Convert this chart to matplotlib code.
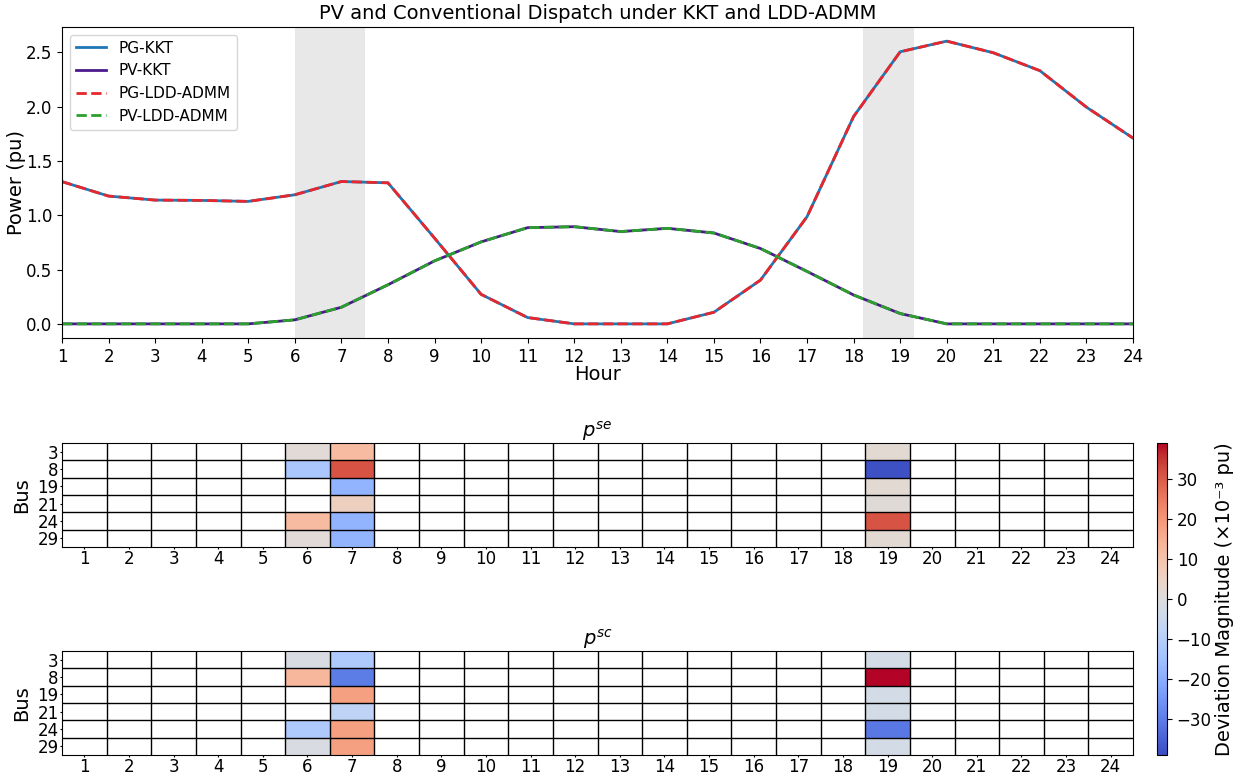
import numpy as np
import matplotlib
matplotlib.use("Agg")
import matplotlib.pyplot as plt

hours = list(range(1, 25))
pg_kkt = [1.31, 1.177, 1.14, 1.137, 1.128, 1.189, 1.311, 1.299, 0.79, 0.272, 0.058, 0.0,
          0.0, 0.0, 0.107, 0.403, 0.987, 1.91, 2.506, 2.604, 2.497, 2.332, 1.996, 1.711]
pv_kkt = [0.0, 0.0, 0.0, 0.0, 0.0, 0.037, 0.153, 0.36, 0.58, 0.755, 0.886, 0.895,
          0.85, 0.88, 0.837, 0.694, 0.483, 0.266, 0.095, 0.0, 0.0, 0.0, 0.0, 0.0]
pg_admm = list(pg_kkt)
pv_admm = list(pv_kkt)

shade_spans = [(6.0, 7.5), (18.2, 19.3)]

buses = ["3", "8", "19", "21", "24", "29"]
# deviations (x1e-3 pu) at hours 6, 7, 19; other hours are exactly zero (blank)
dev_hours = [6, 7, 19]
pse_vals = [
    [1.5, 12.0, 2.0],
    [-13.0, 31.0, -38.0],
    [np.nan, -18.0, 2.0],
    [np.nan, 6.0, 1.0],
    [12.0, -18.0, 31.0],
    [1.5, -18.0, 2.0],
]
psc_vals = [
    [-1.5, -12.0, -2.5],
    [13.0, -30.0, 39.0],
    [np.nan, 18.0, -2.5],
    [np.nan, -8.0, -2.5],
    [-12.0, 18.0, -31.0],
    [-1.5, 18.0, -2.5],
]


def build_matrix(vals):
    m = np.full((len(buses), len(hours)), np.nan)
    for i, row in enumerate(vals):
        for j, h in enumerate(dev_hours):
            m[i, h - 1] = row[j]
    return m


pse = build_matrix(pse_vals)
psc = build_matrix(psc_vals)
vmax = np.nanmax(np.abs(np.concatenate([pse.ravel(), psc.ravel()])))

W, H = 1234, 776
fig = plt.figure(figsize=(W / 100, H / 100), dpi=100)


def fx(px):
    return px / W


def fy(top, bottom):
    return (H - bottom) / H, (bottom - top) / H


left, right = 62, 1133
b, h = fy(27, 338)
ax = fig.add_axes([fx(left), b, fx(right - left), h])
for s0, s1 in shade_spans:
    ax.axvspan(s0, s1, color="#e8e8e8", zorder=0, lw=0)
ax.plot(hours, pg_kkt, color="#1f77b4", lw=2, label="PG-KKT")
ax.plot(hours, pv_kkt, color="#4b1a8c", lw=2, label="PV-KKT")
ax.plot(hours, pg_admm, color="#e8262b", lw=2, ls="--", label="PG-LDD-ADMM")
ax.plot(hours, pv_admm, color="#2ca02c", lw=2, ls="--", label="PV-LDD-ADMM")
ax.set_xlim(1, 24)
ax.set_xticks(hours)
ax.set_yticks([0.0, 0.5, 1.0, 1.5, 2.0, 2.5])
ax.tick_params(labelsize=12)
ax.set_xlabel("Hour", fontsize=14, labelpad=-0.5)
ax.set_ylabel("Power (pu)", fontsize=14)
ax.yaxis.set_label_coords((26 - 62) / 1071, 0.5)
ax.set_title("PV and Conventional Dispatch under KKT and LDD-ADMM", fontsize=14, pad=5.5)
ax.legend(loc="upper left", fontsize=11)

cmap = plt.get_cmap("coolwarm").copy()
cmap.set_bad("white")


def heat(top, bottom, data, title):
    b, h = fy(top, bottom)
    a = fig.add_axes([fx(left), b, fx(right - left), h])
    im = a.imshow(np.ma.masked_invalid(data), cmap=cmap, vmin=-vmax, vmax=vmax,
                  aspect="auto", interpolation="nearest",
                  extent=(0.5, 24.5, len(buses) - 0.5, -0.5))
    a.set_xticks(hours)
    a.set_xticklabels([str(x) for x in hours])
    a.set_yticks(range(len(buses)))
    a.set_yticklabels(buses)
    a.set_xticks(np.arange(1.5, 24.5, 1), minor=True)
    a.set_yticks(np.arange(0.5, len(buses) - 0.5, 1), minor=True)
    a.grid(which="minor", color="black", lw=1)
    a.tick_params(which="minor", length=0)
    a.tick_params(which="major", labelsize=12, length=1.5, pad=1)
    a.set_ylabel("Bus", fontsize=14)
    a.yaxis.set_label_coords((31 - 62) / 1071, 0.5)
    a.set_title(title, fontsize=14, pad=1)
    return im


im = heat(443, 547, pse, r"$p^{se}$")
heat(651, 755, psc, r"$p^{sc}$")

b, h = fy(443, 755)
cax = fig.add_axes([fx(1157), b, fx(10), h])
cb = fig.colorbar(im, cax=cax)
cb.set_ticks([-30, -20, -10, 0, 10, 20, 30])
cb.ax.tick_params(labelsize=12)
cb.set_label("Deviation Magnitude (×10⁻³ pu)", fontsize=14, labelpad=2)

fig.savefig("out.png", dpi=100)
